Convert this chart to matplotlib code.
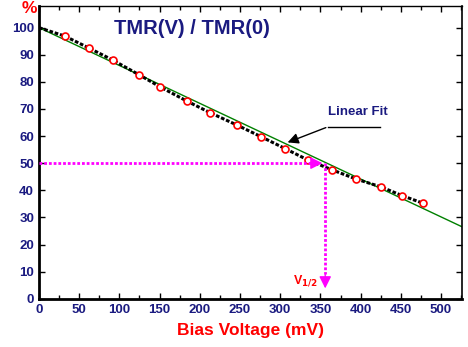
# TMR(V)/TMR(0) 随偏压变化
import matplotlib.pyplot as plt

plt.rcParams['font.family'] = ['Liberation Sans', 'DejaVu Sans']

# 测量数据
bias = [0, 32, 62, 92, 124, 151, 184, 213, 246, 276, 306, 335, 365, 394, 425, 452, 478]
tmr = [100, 96.9, 92.5, 88.0, 82.7, 78.1, 72.9, 68.6, 64.1, 59.8, 55.4, 51.1, 47.5, 44.2, 41.3, 38.0, 35.2]

# 线性拟合
fit_x = [0, 530]
fit_y = [100, 100 - 0.1396 * 530]

# V1/2
v_half = 356
half_level = 50

navy = '#1a1a80'

fig = plt.figure(figsize=(4.68, 3.47), dpi=100)
ax = fig.add_axes([0.0833, 0.139, 0.9032, 0.8446])

ax.plot(fit_x, fit_y, color='green', lw=1, zorder=2)
ax.plot(bias, tmr, color='black', lw=2.2, ls=(0, (1.2, 0.6)), zorder=3)
ax.plot(bias[1:], tmr[1:], 'o', mfc='white', mec='red', ms=5, mew=1.2, zorder=4)

# 品红色箭头
ax.plot([0, v_half - 12], [half_level, half_level], color='magenta', lw=2, ls=(0, (1, 0.7)), zorder=5)
ax.annotate('', xy=(v_half, half_level), xytext=(v_half - 22, half_level),
            arrowprops=dict(arrowstyle='-|>', color='magenta', lw=1, mutation_scale=18), zorder=6)
ax.plot([v_half, v_half], [half_level, 9], color='magenta', lw=2, ls=(0, (1, 0.7)), zorder=5)
ax.annotate('', xy=(v_half, 2.8), xytext=(v_half, 10),
            arrowprops=dict(arrowstyle='-|>', color='magenta', lw=1, mutation_scale=18), zorder=6)
ax.text(331, 6.5, r'V$_{\mathbf{1/2}}$', color='red', fontsize=9, fontweight='bold', ha='center', va='center')

# 标注
ax.plot([424, 360], [63.5, 63.5], color='black', lw=1)
ax.annotate('', xy=(306, 57.3), xytext=(360, 63.5),
            arrowprops=dict(arrowstyle='-|>', color='black', lw=1, mutation_scale=16))
ax.text(397, 69, 'Linear Fit', color=navy, fontsize=9.5, fontweight='bold', ha='center', va='center')
ax.text(190, 99.8, 'TMR(V) / TMR(0)', color=navy, fontsize=14.5, fontweight='bold', ha='center', va='center')

ax.set_xlim(0, 525.7)
ax.set_ylim(0, 108.1)
ax.set_xticks(range(0, 501, 50))
ax.set_xticks(range(0, 526, 25), minor=True)
ax.set_yticks(range(0, 101, 10))
ax.tick_params(which='both', direction='in', top=True, right=True, labelcolor=navy,
               labelsize=9.5, length=4, width=1)
ax.tick_params(axis='x', which='minor', length=3)
for lab in ax.get_xticklabels() + ax.get_yticklabels():
    lab.set_fontweight('bold')

ax.spines['left'].set_linewidth(2)
ax.spines['bottom'].set_linewidth(2)
ax.spines['top'].set_linewidth(1)
ax.spines['right'].set_linewidth(1.2)

ax.set_xlabel('Bias Voltage (mV)', color='red', fontsize=12.5, fontweight='bold', labelpad=5)
fig.text(0.062, 0.975, '%', color='red', fontsize=12.5, fontweight='bold', ha='center', va='center')

plt.savefig('out.png')
